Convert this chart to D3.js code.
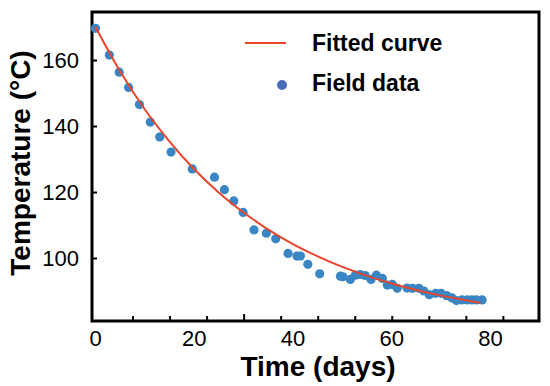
<!DOCTYPE html>
<html>
<head>
<meta charset="utf-8">
<script src="https://cdn.jsdelivr.net/npm/d3@7"></script>
<style>
  body { margin: 0; background: #fff; }
  svg { display: block; font-family: "Liberation Sans", Arial, sans-serif; }
</style>
</head>
<body>
<div id="chart"></div>
<script>
// field measurements (days, °C)
const fieldDays = [0, 2.8, 4.8, 6.7, 8.9, 11.1, 13.0, 15.3, 19.6, 24.1, 26.1, 28.0, 29.9, 32.1,
  34.6, 36.5, 39.0, 40.8, 41.5, 43.0, 45.4, 49.6, 50.1, 51.6, 52.6, 53.6, 54.6, 55.8, 56.9,
  58.1, 59.1, 60.1, 61.1, 63.1, 64.2, 65.5, 66.5, 67.6, 68.9, 70.0, 71.1, 72.2, 73.1, 74.2,
  75.3, 76.2, 77.1, 78.3];
const fieldTemps = [169.6, 161.5, 156.3, 151.7, 146.5, 141.2, 136.7, 132.1, 127.0, 124.5, 120.7,
  117.3, 113.8, 108.5, 107.5, 105.8, 101.4, 100.6, 100.6, 98.1, 95.2, 94.5, 94.3, 93.5, 94.8,
  95.0, 94.7, 93.5, 94.8, 93.8, 91.8, 92.0, 90.8, 90.9, 90.8, 90.8, 90.0, 88.9, 89.3, 89.3,
  88.6, 87.9, 87.1, 87.3, 87.3, 87.3, 87.3, 87.3];

// fitted curve
const fitDays = [0, 5, 10, 15, 20, 25, 30, 35, 40, 45, 50, 55, 60, 65, 70, 75, 78];
const fitTemps = [170.0, 156.5, 145.0, 135.3, 126.9, 119.8, 113.8, 108.6, 104.2, 100.5, 97.3,
  94.6, 92.3, 90.3, 88.6, 87.2, 86.4];

const xLabels = [0, 20, 40, 60, 80];
const xTickMarks = [7.5, 15, 22.5, 30, 37.5, 45, 52.5, 60, 67.5, 75, 82.5];
const yLabels = [100, 120, 140, 160];

const width = 550, height = 386;
const margin = {top: 12, right: 11, bottom: 65, left: 92};

const svg = d3.select('#chart').append('svg')
    .attr('width', width)
    .attr('height', height);

const x = d3.scaleLinear()
    .domain([-0.71, 89.82])
    .range([margin.left, width - margin.right]);

const y = d3.scaleLinear()
    .domain([80.91, 174.55])
    .range([height - margin.bottom, margin.top]);

// tick marks on the bottom (inward), labels drawn separately
const xTicks = svg.append('g')
    .attr('transform', `translate(0,${height - margin.bottom})`)
    .call(d3.axisBottom(x).tickValues(xTickMarks).tickSize(-5).tickFormat(''));
xTicks.select('.domain').remove();
xTicks.selectAll('.tick line')
    .attr('stroke', '#000')
    .attr('stroke-width', 2)
    .attr('y2', d => d === 30 ? -7 : -5);

svg.append('g')
    .selectAll('text')
    .data(xLabels)
    .join('text')
    .attr('x', d => x(d))
    .attr('y', 346)
    .attr('text-anchor', 'middle')
    .attr('font-size', 22)
    .text(d => d);

const yAxis = svg.append('g')
    .attr('transform', `translate(${margin.left},0)`)
    .call(d3.axisLeft(y).tickValues(yLabels).tickSize(-5).tickPadding(13));
yAxis.select('.domain').remove();
yAxis.selectAll('.tick line').attr('stroke', '#000').attr('stroke-width', 2);
yAxis.selectAll('.tick text')
    .attr('font-size', 22)
    .attr('font-family', '"Liberation Sans", Arial, sans-serif')
    .attr('fill', '#000');

// frame
svg.append('rect')
    .attr('x', margin.left)
    .attr('y', margin.top)
    .attr('width', width - margin.left - margin.right)
    .attr('height', height - margin.top - margin.bottom)
    .attr('fill', 'none')
    .attr('stroke', '#000')
    .attr('stroke-width', 3);

// data points
const points = fieldDays.map((d, i) => ({day: d, temp: fieldTemps[i]}));
svg.append('g')
    .selectAll('circle')
    .data(points)
    .join('circle')
    .attr('cx', d => x(d.day))
    .attr('cy', d => y(d.temp))
    .attr('r', 4.6)
    .attr('fill', '#3a86c4');

// fitted curve
const fit = fitDays.map((d, i) => ({day: d, temp: fitTemps[i]}));
svg.append('path')
    .datum(fit)
    .attr('fill', 'none')
    .attr('stroke', '#e8452c')
    .attr('stroke-width', 2)
    .attr('d', d3.line().x(d => x(d.day)).y(d => y(d.temp)).curve(d3.curveMonotoneX));

// legend
const legend = svg.append('g');
legend.append('line')
    .attr('x1', 245).attr('x2', 286)
    .attr('y1', 43).attr('y2', 43)
    .attr('stroke', '#e8452c')
    .attr('stroke-width', 2);
legend.append('circle')
    .attr('cx', 282).attr('cy', 85).attr('r', 5)
    .attr('fill', '#4b6cba');
legend.selectAll('text')
    .data(['Fitted curve', 'Field data'])
    .join('text')
    .attr('x', 312)
    .attr('y', (d, i) => 51 + i * 40)
    .attr('font-size', 23)
    .attr('font-weight', 'bold')
    .text(d => d);

// axis titles
svg.append('text')
    .attr('x', 318)
    .attr('y', 376)
    .attr('text-anchor', 'middle')
    .attr('font-size', 28)
    .attr('font-weight', 'bold')
    .text('Time (days)');

svg.append('text')
    .attr('transform', 'translate(30,163) rotate(-90)')
    .attr('text-anchor', 'middle')
    .attr('font-size', 28)
    .attr('font-weight', 'bold')
    .text('Temperature (°C)');
</script>
</body>
</html>
